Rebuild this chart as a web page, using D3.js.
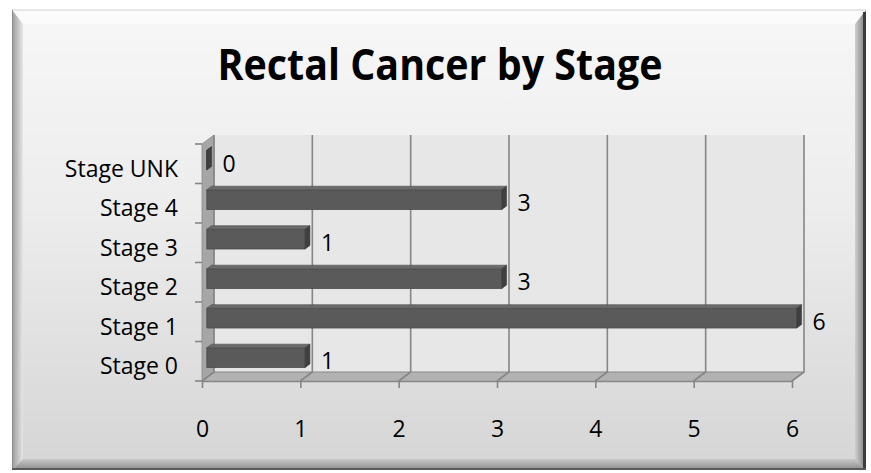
<!DOCTYPE html>
<html>
<head>
<meta charset="utf-8">
<script src="https://cdn.jsdelivr.net/npm/d3@7"></script>
<style>
  html, body { margin: 0; padding: 0; background: #ffffff; }
  svg { display: block; }
  text { font-family: "Open Sans", Lato, "Liberation Sans", sans-serif; fill: #000; }
</style>
</head>
<body>
<svg id="chart" width="871" height="473"></svg>
<script>
// Chart data
const categories = ["Stage 0", "Stage 1", "Stage 2", "Stage 3", "Stage 4", "Stage UNK"];
const values = [1, 6, 3, 1, 3, 0];
const tickValues = [0, 1, 2, 3, 4, 5, 6];
const titleText = "Rectal Cancer by Stage";

const labelFont = "\"Open Sans\", Lato, sans-serif";
const labelSize = 23;

const svg = d3.select("#chart");
const defs = svg.append("defs");

// ---- Frame with bevel ----
const panelGrad = defs.append("linearGradient").attr("id", "panelGrad")
  .attr("x1", 0).attr("y1", 0).attr("x2", 0).attr("y2", 1);
panelGrad.append("stop").attr("offset", "0%").attr("stop-color", "#f7f7f7");
panelGrad.append("stop").attr("offset", "45%").attr("stop-color", "#ececec");
panelGrad.append("stop").attr("offset", "100%").attr("stop-color", "#d5d5d5");

const fx0 = 12, fy0 = 10, fx1 = 866, fy1 = 470, bev = 11;
svg.append("rect").attr("x", fx0).attr("y", fy0).attr("width", fx1 - fx0).attr("height", fy1 - fy0)
  .attr("fill", "url(#panelGrad)");
// top bevel
svg.append("polygon").attr("points", [[fx0, fy0], [fx1, fy0], [fx1 - bev, fy0 + bev + 3], [fx0 + bev, fy0 + bev + 3]].join(" "))
  .attr("fill", "#fbfbfb");
// left bevel
const lgL = defs.append("linearGradient").attr("id", "bevL").attr("x1", 0).attr("x2", 1).attr("y1", 0).attr("y2", 0);
lgL.append("stop").attr("offset", "0%").attr("stop-color", "#9a9a9a");
lgL.append("stop").attr("offset", "100%").attr("stop-color", "#e6e6e6");
svg.append("polygon").attr("points", [[fx0, fy0], [fx0 + bev, fy0 + bev + 3], [fx0 + bev, fy1 - bev], [fx0, fy1]].join(" "))
  .attr("fill", "url(#bevL)");
// right bevel
const lgR = defs.append("linearGradient").attr("id", "bevR").attr("x1", 0).attr("x2", 1).attr("y1", 0).attr("y2", 0);
lgR.append("stop").attr("offset", "0%").attr("stop-color", "#cfcfcf");
lgR.append("stop").attr("offset", "100%").attr("stop-color", "#7a7a7a");
svg.append("polygon").attr("points", [[fx1, fy0], [fx1, fy1], [fx1 - bev, fy1 - bev], [fx1 - bev, fy0 + bev + 3]].join(" "))
  .attr("fill", "url(#bevR)");
// bottom bevel
const lgB = defs.append("linearGradient").attr("id", "bevB").attr("x1", 0).attr("x2", 0).attr("y1", 0).attr("y2", 1);
lgB.append("stop").attr("offset", "0%").attr("stop-color", "#c8c8c8");
lgB.append("stop").attr("offset", "100%").attr("stop-color", "#8a8a8a");
svg.append("polygon").attr("points", [[fx0, fy1], [fx0 + bev, fy1 - bev], [fx1 - bev, fy1 - bev], [fx1, fy1]].join(" "))
  .attr("fill", "url(#bevB)");
// outer edges
svg.append("line").attr("x1", fx0).attr("y1", fy0).attr("x2", fx1).attr("y2", fy0).attr("stroke", "#d0d0d0").attr("stroke-width", 1);
svg.append("line").attr("x1", fx0 + 0.5).attr("y1", fy0).attr("x2", fx0 + 0.5).attr("y2", fy1).attr("stroke", "#8c8c8c").attr("stroke-width", 1);
svg.append("line").attr("x1", fx1 - 1.5).attr("y1", fy0 + 2).attr("x2", fx1 - 1.5).attr("y2", fy1).attr("stroke", "#3c3c3c").attr("stroke-width", 3);
svg.append("line").attr("x1", fx0).attr("y1", fy1 - 1).attr("x2", fx1).attr("y2", fy1 - 1).attr("stroke", "#5a5a5a").attr("stroke-width", 2);

// ---- Title ----
svg.append("text").attr("x", 440).attr("y", 80)
  .attr("text-anchor", "middle")
  .attr("font-family", "Lato, \"Open Sans\", sans-serif")
  .attr("font-size", 43).attr("font-weight", "bold")
  .attr("textLength", 445).attr("lengthAdjust", "spacingAndGlyphs")
  .text(titleText);

// ---- 3D plot geometry ----
const depthX = 12, depthY = -9;          // offset from the front plane to the back wall
const x = d3.scaleLinear().domain([0, 6]).range([202, 792]);
const y = d3.scaleBand().domain(categories.slice().reverse()).range([144, 381]).paddingInner(0.5).paddingOuter(0.25);
const yEdges = d3.scaleBand().domain(categories.slice().reverse()).range([144, 381]);
const pt = (px, py, t) => [px + depthX * t, py + depthY * t];

const yTop = 144, yBot = 381;

// back wall
svg.append("polygon")
  .attr("points", [pt(x(0), yTop, 1), pt(x(6), yTop, 1), pt(x(6), yBot, 1), pt(x(0), yBot, 1)].join(" "))
  .attr("fill", "#e7e7e7");
// left side wall
svg.append("polygon")
  .attr("points", [pt(x(0), yTop, 0), pt(x(0), yTop, 1), pt(x(0), yBot, 1), pt(x(0), yBot, 0)].join(" "))
  .attr("fill", "#a6a6a6").attr("stroke", "#8c8c8c").attr("stroke-width", 0.8);
// floor
svg.append("polygon")
  .attr("points", [pt(x(0), yBot, 0), pt(x(0), yBot, 1), pt(x(6), yBot, 1), pt(x(6), yBot, 0)].join(" "))
  .attr("fill", "#b2b2b2");

// gridlines: up the back wall and across the floor
const grid = svg.append("g").attr("stroke", "#868686").attr("stroke-width", 1.6).attr("fill", "none");
tickValues.forEach(v => {
  grid.append("polyline")
    .attr("points", [pt(x(v), yTop, 1), pt(x(v), yBot, 1), pt(x(v), yBot, 0)].join(" "));
});
// back edge of floor
grid.append("line")
  .attr("x1", pt(x(0), yBot, 1)[0]).attr("y1", pt(x(0), yBot, 1)[1])
  .attr("x2", pt(x(6), yBot, 1)[0]).attr("y2", pt(x(6), yBot, 1)[1])
  .attr("stroke-width", 1);

// ---- X axis (front floor edge) ----
const xAxis = svg.append("g").attr("transform", `translate(0,${yBot})`)
  .call(d3.axisBottom(x).tickValues(tickValues).tickFormat(d3.format("d"))
    .tickSize(7).tickPadding(33).tickSizeOuter(0));
xAxis.select(".domain").attr("stroke", "#868686").attr("stroke-width", 1.6);
xAxis.selectAll(".tick line").attr("stroke", "#868686").attr("stroke-width", 1.6);
xAxis.selectAll(".tick text").attr("font-size", labelSize).attr("font-family", labelFont).attr("fill", "#000");

// ---- Y axis (category labels and band ticks) ----
const yAxis = svg.append("g").attr("transform", `translate(${x(0)},0)`)
  .call(d3.axisLeft(y).tickSize(0).tickPadding(24));
yAxis.select(".domain").remove();
yAxis.selectAll(".tick text").attr("font-size", labelSize).attr("font-family", labelFont).attr("fill", "#000")
  .attr("dy", "0.35em").attr("transform", "translate(0,5)");
const bandEdges = yEdges.domain().map(c => yEdges(c)).concat([yBot]);
svg.append("g").selectAll("line").data(bandEdges).join("line")
  .attr("x1", x(0) - 7).attr("x2", x(0)).attr("y1", d => d).attr("y2", d => d)
  .attr("stroke", "#868686").attr("stroke-width", 1.6);

// ---- 3D bars ----
const t0 = 0.4, t1 = 0.8;
const bars = svg.append("g");
categories.forEach((c, i) => {
  const v = values[i];
  const yt = y(c), yb = y(c) + y.bandwidth();
  const xs = x(0), xe = x(v);
  const g = bars.append("g");
  // front face
  g.append("polygon")
    .attr("points", [pt(xs, yt, t0), pt(xe, yt, t0), pt(xe, yb, t0), pt(xs, yb, t0)].join(" "))
    .attr("fill", "#5a5a5a").attr("stroke", "#4a4a4a").attr("stroke-width", 0.8);
  // top face
  g.append("polygon")
    .attr("points", [pt(xs, yt, t0), pt(xs, yt, t1), pt(xe, yt, t1), pt(xe, yt, t0)].join(" "))
    .attr("fill", "#6b6b6b").attr("stroke", "#4a4a4a").attr("stroke-width", 0.6);
  // end cap
  g.append("polygon")
    .attr("points", [pt(xe, yt, t0), pt(xe, yt, t1), pt(xe, yb, t1), pt(xe, yb, t0)].join(" "))
    .attr("fill", "#3f3f3f").attr("stroke", "#3a3a3a").attr("stroke-width", 0.6);
  // value label
  const [lx, ly] = pt(xe, (yt + yb) / 2, t1);
  svg.append("text").attr("x", lx + 11).attr("y", ly + 7).attr("dy", "0.35em")
    .attr("font-size", labelSize).attr("font-family", labelFont).text(v);
});
</script>
</body>
</html>
